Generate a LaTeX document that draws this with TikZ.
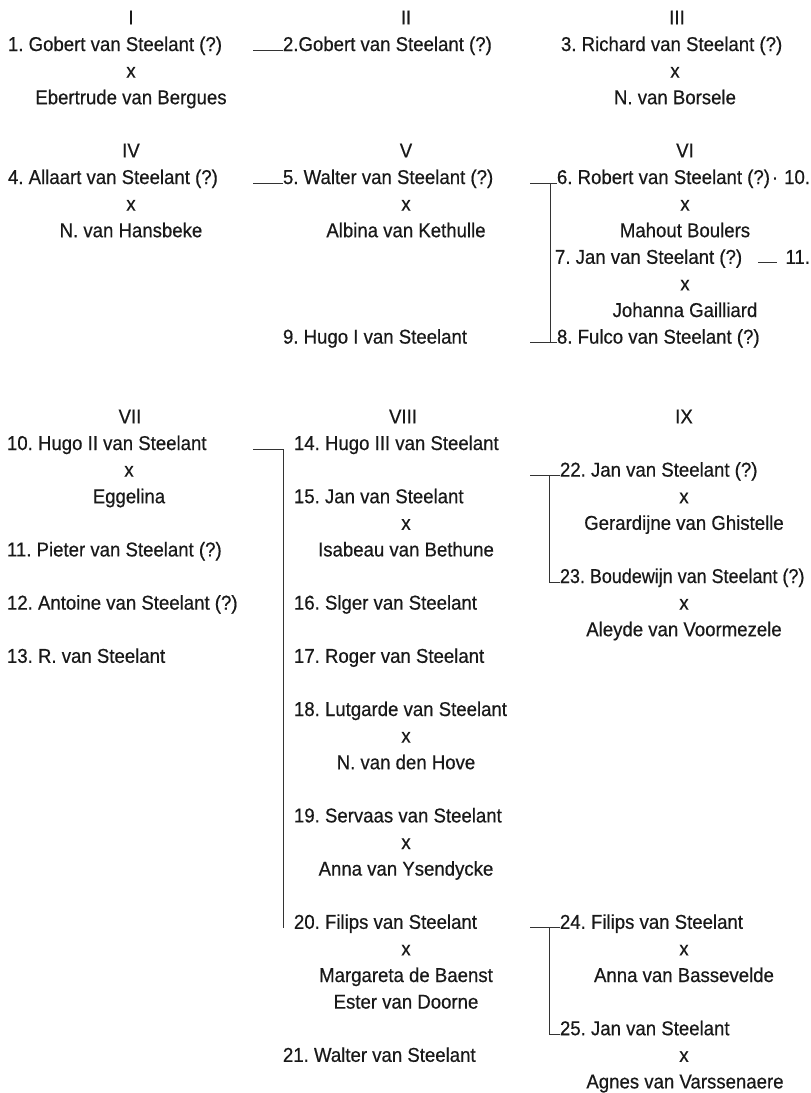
\documentclass[tikz,border=0pt]{standalone}
\usepackage{fontspec}
\usepackage{graphicx}
\setmainfont{Liberation Sans}[FakeStretch=0.93,FakeBold=0.5]
\frenchspacing
\begin{document}
\begin{tikzpicture}[x=1pt,y=-1pt,
  txt/.style={inner sep=0pt,outer sep=0pt,text=black!90,font=\fontsize{20}{24}\selectfont},
  lt/.style={txt,anchor=base west},
  ct/.style={txt,anchor=base},
  rt/.style={txt,anchor=base east},
  link/.style={draw=black!80,line width=0.8pt}]
\useasboundingbox[fill=white] (0,0) rectangle (811,1093);
% ---------- generation numerals
\node[ct] (gI)    at (131,24.4)  {I};
\node[ct] (gII)   at (406,24.4)  {II};
\node[ct] (gIII)  at (677,24.4)  {III};
\node[ct] (gIV)   at (131,157.4) {IV};
\node[ct] (gV)    at (406,157.4) {V};
\node[ct] (gVI)   at (685,157.4) {VI};
\node[ct] (gVII)  at (130,423.4) {VII};
\node[ct] (gVIII) at (403,423.4) {VIII};
\node[ct] (gIX)   at (684,423.4) {IX};
% ---------- I, II, III
\node[lt] (n1) at (8,51) {1. Gobert van Steelant (?)};
\node[ct] (x1) at (131,77.6) {x};
\node[ct] (s1) at (131,104.2) {Ebertrude van Bergues};
\node[lt] (n2) at (283,51) {2.Gobert van Steelant (?)};
\node[lt] (n3) at (561,51) {3. Richard van Steelant (?)};
\node[ct] (x3) at (675,77.6) {x};
\node[ct] (s3) at (675,104.2) {N. van Borsele};
% ---------- IV, V, VI
\node[lt] (n4) at (8,184) {4. Allaart van Steelant (?)};
\node[ct] (x4) at (131,210.6) {x};
\node[ct] (s4) at (131,237.2) {N. van Hansbeke};
\node[lt] (n5) at (283,184) {5. Walter van Steelant (?)};
\node[ct] (x5) at (406,210.6) {x};
\node[ct] (s5) at (406,237.2) {Albina van Kethulle};
\node[lt] (n9) at (283,343.6) {9. Hugo I van Steelant};
\node[lt] (n6) at (557,184) {6. Robert van Steelant (?)};
\node[ct] (d6) at (775,184) {·};
\node[rt] (r6) at (810,184) {10.};
\node[ct] (x6) at (685,210.6) {x};
\node[ct] (s6) at (685,237.2) {Mahout Boulers};
\node[lt] (n7) at (555,263.8) {7. Jan van Steelant (?)};
\node[rt] (r7) at (810,263.8) {11.};
\node[ct] (x7) at (685,290.4) {x};
\node[ct] (s7) at (685,317) {Johanna Gailliard};
\node[lt] (n8) at (557,343.6) {8. Fulco van Steelant (?)};
% ---------- VII
\node[lt] (n10) at (7,450) {10. Hugo II van Steelant};
\node[ct] (x10) at (129,476.6) {x};
\node[ct] (s10) at (129,503.2) {Eggelina};
\node[lt] (n11) at (7,556.4) {11. Pieter van Steelant (?)};
\node[lt] (n12) at (7,609.6) {12. Antoine van Steelant (?)};
\node[lt] (n13) at (7,662.8) {13. R. van Steelant};
% ---------- VIII
\node[lt] (n14) at (294,450) {14. Hugo III van Steelant};
\node[lt] (n15) at (294,503.2) {15. Jan van Steelant};
\node[ct] (x15) at (406,529.8) {x};
\node[ct] (s15) at (406,556.4) {Isabeau van Bethune};
\node[lt] (n16) at (294,609.6) {16. Slger van Steelant};
\node[lt] (n17) at (294,662.8) {17. Roger van Steelant};
\node[lt] (n18) at (294,716) {18. Lutgarde van Steelant};
\node[ct] (x18) at (406,742.6) {x};
\node[ct] (s18) at (406,769.2) {N. van den Hove};
\node[lt] (n19) at (294,822.4) {19. Servaas van Steelant};
\node[ct] (x19) at (406,849) {x};
\node[ct] (s19) at (406,875.6) {Anna van Ysendycke};
\node[lt] (n20) at (294,928.8) {20. Filips van Steelant};
\node[ct] (x20) at (406,955.4) {x};
\node[ct] (s20) at (406,982) {Margareta de Baenst};
\node[ct] (t20) at (406,1008.6) {Ester van Doorne};
\node[lt] (n21) at (283,1061.8) {21. Walter van Steelant};
% ---------- IX
\node[lt] (n22) at (560,476.6) {22. Jan van Steelant (?)};
\node[ct] (x22) at (684,503.2) {x};
\node[ct] (s22) at (684,529.8) {Gerardijne van Ghistelle};
\node[lt] (n23) at (560,583) {\scalebox{0.965}[1]{23. Boudewijn van Steelant (?)}};
\node[ct] (x23) at (684,609.6) {x};
\node[ct] (s23) at (684,636.2) {Aleyde van Voormezele};
\node[lt] (n24) at (560,928.8) {24. Filips van Steelant};
\node[ct] (x24) at (684,955.4) {x};
\node[ct] (s24) at (684,982) {Anna van Bassevelde};
\node[lt] (n25) at (560,1035.2) {25. Jan van Steelant};
\node[ct] (x25) at (684,1061.8) {x};
\node[ct] (s25) at (685,1088.4) {Agnes van Varssenaere};
% ---------- connectors
\coordinate (a2) at (253,50);
\draw[link] (a2) -- (a2 -| n2.west);
\coordinate (a5) at (253,183);
\draw[link] (a5) -- (a5 -| n5.west);
% VI bracket
\coordinate (a6) at (530,183);
\coordinate (j6) at (550,183);
\coordinate (a8) at (530,342.6);
\coordinate (j8) at (550,342.6);
\draw[link] (a6) -- (a6 -| n6.west);
\draw[link] (j6) -- (j8);
\draw[link] (a8) -- (a8 -| n8.west);
\coordinate (u7a) at (758,262.8);
\coordinate (u7b) at (777,262.8);
\draw[link] (u7a) -- (u7b);
% VIII bracket
\coordinate (a14) at (253,449);
\coordinate (j14) at (283,449);
\coordinate (j20) at (283,928);
\draw[link] (a14) -- (j14) -- (j20);
% IX upper bracket
\coordinate (a22) at (530,475.6);
\coordinate (j22) at (549,475.6);
\coordinate (j23) at (549,582);
\draw[link] (a22) -- (a22 -| n22.west);
\draw[link] (j22) -- (j23) -- (j23 -| n23.west);
% IX lower bracket
\coordinate (a24) at (530,927.8);
\coordinate (j24) at (549,927.8);
\coordinate (j25) at (549,1034.2);
\draw[link] (a24) -- (a24 -| n24.west);
\draw[link] (j24) -- (j25) -- (j25 -| n25.west);
\end{tikzpicture}
\end{document}
